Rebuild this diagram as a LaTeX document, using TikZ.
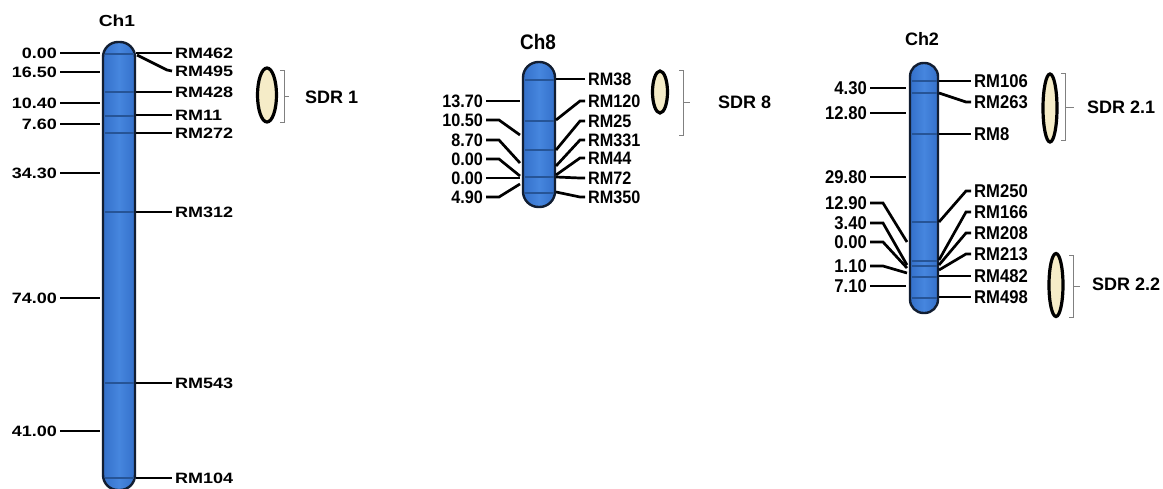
\documentclass[tikz,border=0pt]{standalone}
\usepackage{fontspec}
\usetikzlibrary{shapes.geometric}
\setmainfont{Liberation Sans}
\newfontfamily\widef[FakeStretch=1.2]{Liberation Sans}
\newfontfamily\narf[FakeStretch=0.9]{Liberation Sans}
\definecolor{chrm}{RGB}{70,134,222}
\definecolor{chrd}{RGB}{52,112,202}
\definecolor{chro}{RGB}{18,30,50}
\definecolor{bandc}{RGB}{38,84,150}
\definecolor{cream}{RGB}{245,236,200}
\tikzset{
 chrom/.style={draw=chro, line width=2.4pt, left color=chrd, right color=chrd, middle color=chrm},
 band/.style={draw=bandc, line width=1.3pt},
 tk/.style={line width=2.7pt, draw=black},
 lone/.style={font=\widef\bfseries\fontsize{15}{15}\selectfont, inner sep=3pt},
 leight/.style={font=\narf\bfseries\fontsize{18}{18}\selectfont, inner sep=3pt},
 ltwo/.style={font=\narf\bfseries\fontsize{18.5}{18.5}\selectfont, inner sep=3pt},
 sdr/.style={draw=black, line width=3.2pt, fill=cream},
 brk/.style={draw=gray, line width=0.8pt},
 sdrt/.style={font=\bfseries\fontsize{18}{18}\selectfont, anchor=west, inner sep=0pt},
}
\begin{document}
\begin{tikzpicture}[x=1pt,y=-1pt]
\useasboundingbox (0,0) rectangle (1163,488);
\fill[white] (0,0) rectangle (1163,488);
% ---------------- Ch1 ----------------
\node[font=\widef\bfseries\fontsize{16}{16}\selectfont] (t1) at (117,21) {Ch1};
\draw[chrom, rounded corners=15pt] (103,42) rectangle (135,490);
\foreach \y in {54,92,116,133,212,383,478} \draw[band] (104.5,\y) -- (133.5,\y);
\foreach \y/\t/\n in {53/0.00/a,72/16.50/b,103/10.40/c,124/7.60/d,173/34.30/e,298/74.00/f,431/41.00/g}{
  \node[lone, anchor=east] (ll\n) at (60,\y) {\t};
  \coordinate (cl\n) at (100,\y);
  \draw[tk] (ll\n.east) -- (cl\n);
}
\foreach \y/\t/\n in {53/RM462/a,92/RM428/c,115/RM11/d,133/RM272/e,212/RM312/f,383/RM543/g,478/RM104/h}{
  \node[lone, anchor=west] (rl\n) at (172,\y) {\t};
  \coordinate (cr\n) at (136,\y);
  \draw[tk] (cr\n) -- (rl\n.west);
}
\node[lone, anchor=west] (rlb) at (172,71) {RM495};
\coordinate (crb) at (137,55);
\draw[tk] (crb) -- (167,70) -- (rlb.west);
% SDR 1
\node[sdr, ellipse, minimum width=19pt, minimum height=54pt, inner sep=0pt] (e1) at (267,95) {};
\draw[brk] (280,70) -- (284,70) -- (284,122) -- (280,122);
\coordinate (b1) at (284,96);
\node[sdrt] (s1) at (305,97) {SDR 1};
\draw[brk] (b1) -- (289,96);
% ---------------- Ch8 ----------------
\node[font=\narf\bfseries\fontsize{21}{21}\selectfont] (t8) at (538,42) {Ch8};
\draw[chrom, rounded corners=15.5pt] (523,62) rectangle (555,207);
\foreach \y in {80,121,150,177,193} \draw[band] (524.5,\y) -- (553.5,\y);
\node[leight, anchor=east] (el1) at (486,101) {13.70};
\coordinate (ec1) at (520,101);
\draw[tk] (el1.east) -- (ec1);
\foreach \y/\t/\ty/\n in {120/10.50/135/b,140/8.70/163/c,159/0.00/176/d,178/0.00/178/e,197/4.90/184/f}{
  \node[leight, anchor=east] (el\n) at (486,\y) {\t};
  \coordinate (ec\n) at (520,\ty);
  \draw[tk] (el\n.east) -- (499,\y) -- (ec\n);
}
\node[leight, anchor=west] (er1) at (585,79) {RM38};
\coordinate (erc1) at (556,79);
\draw[tk] (erc1) -- (er1.west);
\foreach \y/\t/\sy/\n in {101/RM120/120/b,121/RM25/150/c,140/RM331/166/d,158/RM44/175/e,178/RM72/177/f,197/RM350/192/g}{
  \node[leight, anchor=west] (er\n) at (585,\y) {\t};
  \coordinate (erc\n) at (556,\sy);
  \draw[tk] (erc\n) -- (580,\y) -- (er\n.west);
}
% SDR 8
\node[sdr, ellipse, minimum width=15pt, minimum height=42pt, inner sep=0pt] (e8) at (660,92) {};
\draw[brk] (679,70) -- (683,70) -- (683,135) -- (679,135);
\coordinate (b8) at (683,102);
\node[sdrt] (s8) at (718,102) {SDR 8};
\draw[brk] (b8) -- (690,102);
% ---------------- Ch2 ----------------
\node[font=\bfseries\fontsize{18}{18}\selectfont] (t2) at (922,39) {Ch2};
\draw[chrom, rounded corners=13.5pt] (910,63) rectangle (938,313);
\foreach \y in {81,93,134,222,261,266,277,298} \draw[band] (911.5,\y) -- (936.5,\y);
\foreach \y/\t/\n in {88/4.30/a,113/12.80/b,177/29.80/c,286/7.10/h}{
  \node[ltwo, anchor=east] (wl\n) at (870,\y) {\t};
  \coordinate (wc\n) at (906,\y);
  \draw[tk] (wl\n.east) -- (wc\n);
}
\foreach \y/\t/\ty/\n in {203/12.90/242/d,223/3.40/265/e,242/0.00/268/f,266/1.10/273/g}{
  \node[ltwo, anchor=east] (wl\n) at (870,\y) {\t};
  \coordinate (wc\n) at (907,\ty);
  \draw[tk] (wl\n.east) -- (883,\y) -- (wc\n);
}
\foreach \y/\t/\n in {81/RM106/a,134/RM8/c,276/RM482/h,297/RM498/i}{
  \node[ltwo, anchor=west] (wr\n) at (971,\y) {\t};
  \coordinate (wrc\n) at (939,\y);
  \draw[tk] (wrc\n) -- (wr\n.west);
}
\foreach \y/\t/\sy/\n in {102/RM263/93/b,191/RM250/222/d,212/RM166/260/e,233/RM208/265/f,254/RM213/270/g}{
  \node[ltwo, anchor=west] (wr\n) at (971,\y) {\t};
  \coordinate (wrc\n) at (939,\sy);
  \draw[tk] (wrc\n) -- (966,\y) -- (wr\n.west);
}
% SDR 2.1
\node[sdr, ellipse, minimum width=14pt, minimum height=68pt, inner sep=0pt] (e21) at (1050,108) {};
\draw[brk] (1061,73) -- (1065,73) -- (1065,140) -- (1061,140);
\coordinate (b21) at (1065,107);
\node[sdrt] (s21) at (1087,107) {SDR 2.1};
\draw[brk] (b21) -- (1074,107);
% SDR 2.2
\node[sdr, ellipse, minimum width=14pt, minimum height=63pt, inner sep=0pt] (e22) at (1056,285) {};
\draw[brk] (1069,255) -- (1073,255) -- (1073,317) -- (1069,317);
\coordinate (b22) at (1073,286);
\node[sdrt] (s22) at (1092,284) {SDR 2.2};
\draw[brk] (b22) -- (1080,286);
\end{tikzpicture}
\end{document}
